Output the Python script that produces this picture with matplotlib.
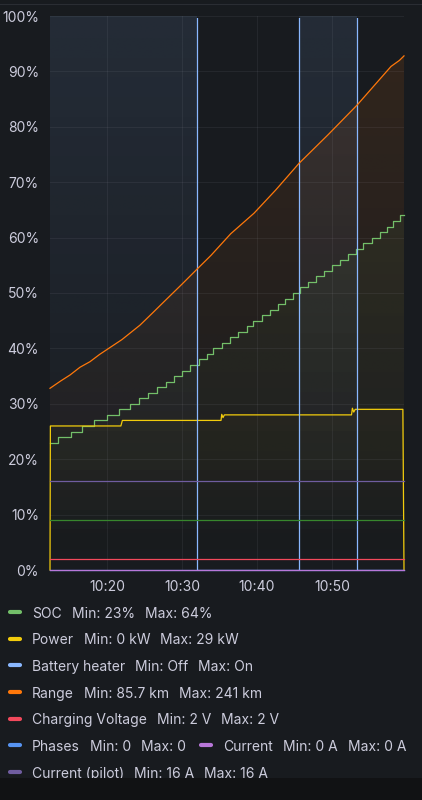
import numpy as np
import matplotlib.pyplot as plt
from matplotlib.colors import to_rgb
from matplotlib.lines import Line2D
from matplotlib.patches import Rectangle

# time axis: minutes after 10:00
t_start = 12.4
t_end = 59.6

soc_times = [12.4, 13.47, 15.16, 16.67, 18.27, 20.0, 21.6, 23.07, 24.27, 25.47,
             26.67, 27.87, 28.93, 30.0, 31.07, 32.27, 33.33, 34.13, 35.33, 36.4,
             37.47, 38.67, 39.47, 40.67, 41.73, 42.8, 43.73, 44.8, 45.73, 46.8,
             47.87, 48.93, 50.0, 51.07, 52.13, 53.2, 54.13, 55.33, 56.4, 57.33,
             58.13, 59.07, 59.6]
soc_values = [23, 24, 25, 26, 27, 28, 29, 30, 31, 32,
              33, 34, 35, 36, 37, 38, 39, 40, 41, 42,
              43, 44, 45, 46, 47, 48, 49, 50, 51, 52,
              53, 54, 55, 56, 57, 58, 59, 60, 61, 62,
              63, 64, 64]

power_times = [12.4, 12.45, 21.85, 22.05, 35.2, 35.3, 35.47, 35.65,
               52.6, 52.72, 52.9, 53.1, 59.45, 59.6]
power_values = [0, 26, 26, 27, 27, 28.1, 27.5, 28,
                28, 29.2, 28.5, 29, 29, 0]

heater_times = [12.4, 32.0, 45.6, 53.29, 59.6]
heater_values = [100, 0, 100, 0, 0]

range_times = [12.4, 13.8, 15.07, 16.4, 17.73, 19.0, 20.0, 21.0, 22.0, 23.2, 24.4,
               26.0, 27.73, 30.0, 32.0, 33.87, 36.5, 39.6, 42.5, 45.6, 49.5,
               53.33, 55.6, 57.87, 59.0, 59.6]
range_values = [32.8, 34.1, 35.2, 36.6, 37.6, 38.9, 39.8, 40.7, 41.6, 42.9, 44.2,
                46.3, 48.6, 51.6, 54.3, 56.8, 60.7, 64.4, 68.6, 73.4, 78.6,
                83.9, 87.4, 90.9, 92.0, 92.8]

flat_names = ['Charging Voltage', 'Phases', 'Current', 'Current (pilot)', 'extra']
flat_values = [2, 0, 0, 16, 9]
flat_colors = ['#F2495C', '#5794F2', '#B877D9', '#705DA0', '#37872D']

legend_names = ['SOC', 'Power', 'Battery heater', 'Range', 'Charging Voltage',
                'Phases', 'Current', 'Current (pilot)']
legend_min = ['23%', '0 kW', 'Off', '85.7 km', '2 V', '0', '0 A', '16 A']
legend_max = ['64%', '29 kW', 'On', '241 km', '2 V', '0', '0 A', '16 A']
legend_colors = ['#73BF69', '#F2CC0C', '#8AB8FF', '#FF780A', '#F2495C',
                 '#5794F2', '#B877D9', '#705DA0']
legend_rows = [[0], [1], [2], [3], [4], [5, 6], [7]]

y_ticks = [0, 10, 20, 30, 40, 50, 60, 70, 80, 90, 100]
x_ticks = [20, 30, 40, 50]
x_labels = ['10:20', '10:30', '10:40', '10:50']

plt.rcParams['font.family'] = ['Inter', 'DejaVu Sans']
BG = '#181b1f'
TXT = '#ccccdc'
W, H = 422, 800

fig = plt.figure(figsize=(W / 100, H / 100), dpi=100, facecolor=BG)
ax = fig.add_axes([50 / W, 230 / H, 354 / W, 554 / H], facecolor=BG)


def gradient_fill(x, y, color, top_alpha, step=None):
    # opacity gradient like grafana: fades out towards 0%
    poly = ax.fill_between(x, y, 0, step=step, facecolor='none', lw=0)
    img = np.zeros((200, 1, 4))
    img[:, :, :3] = to_rgb(color)
    img[:, 0, 3] = np.linspace(0, top_alpha, 200)
    im = ax.imshow(img, extent=[t_start, t_end, 0, 100], origin='lower',
                   aspect='auto', zorder=1, interpolation='bilinear')
    im.set_clip_path(poly.get_paths()[0], transform=ax.transData)


gradient_fill(heater_times, heater_values, '#8AB8FF', 0.11, step='post')
gradient_fill(range_times, range_values, '#FF780A', 0.12)
gradient_fill(soc_times, soc_values, '#73BF69', 0.11, step='post')
gradient_fill(power_times, power_values, '#F2CC0C', 0.11)
for v, c in zip(flat_values, flat_colors):
    if v > 0:
        gradient_fill([t_start, t_end], [v, v], c, 0.11)

lw = 0.9
ax.plot(soc_times, soc_values, drawstyle='steps-post', color='#73BF69', lw=lw,
        clip_on=False, zorder=4)
ax.plot(power_times, power_values, color='#F2CC0C', lw=lw, clip_on=False, zorder=4)
heater_line, = ax.plot(heater_times, heater_values, drawstyle='steps-post',
                       color='#8AB8FF', lw=lw, zorder=4)
# the "on" level sits on the top edge and is hidden there
heater_line.set_clip_path(Rectangle((0, 0), 1, 0.997, transform=ax.transAxes))
ax.plot(range_times, range_values, color='#FF780A', lw=lw, clip_on=False, zorder=4)
for v, c in zip(flat_values, flat_colors):
    ax.plot([t_start, t_end], [v, v], color=c, lw=lw, clip_on=False, zorder=4)

ax.set_xlim(t_start, t_end)
ax.set_ylim(0, 100)
ax.set_yticks(y_ticks)
ax.set_yticklabels([f'{v}%' for v in y_ticks])
ax.set_xticks(x_ticks)
ax.set_xticklabels(x_labels)
ax.tick_params(length=0, colors=TXT, labelsize=10)
ax.tick_params(axis='y', pad=8)
ax.tick_params(axis='x', pad=7)
ax.grid(True, color='#ccccdc', alpha=0.07, lw=0.8)
for s in ax.spines.values():
    s.set_visible(False)

# header line
fig.add_artist(Line2D([0, 1], [1 - 4 / H, 1 - 4 / H], color='#2a2d33', lw=0.8))

# legend drawn by hand
renderer = fig.canvas.get_renderer()


def put_text(x, y, s):
    t = fig.text(x / W, 1 - y / H, s, color=TXT, fontsize=10, va='baseline', ha='left')
    return x + t.get_window_extent(renderer).width


for r, row in enumerate(legend_rows):
    base = 617.5 + r * 26.67
    x = 8
    for k, i in enumerate(row):
        if k > 0:
            x += 13
        fig.add_artist(Line2D([(x + 2) / W, (x + 12) / W],
                              [1 - (base - 5.5) / H] * 2, color=legend_colors[i],
                              lw=3, solid_capstyle='round'))
        x = put_text(x + 24, base, legend_names[i])
        x = put_text(x + 10, base, 'Min: ' + legend_min[i])
        x = put_text(x + 10, base, 'Max: ' + legend_max[i])

# phone navigation bar at the bottom
fig.add_artist(Rectangle((0, 0), 1, 22 / H, transform=fig.transFigure,
                         facecolor='#111214', edgecolor='none', zorder=10))

fig.savefig('out.png', dpi=100, facecolor=BG)
